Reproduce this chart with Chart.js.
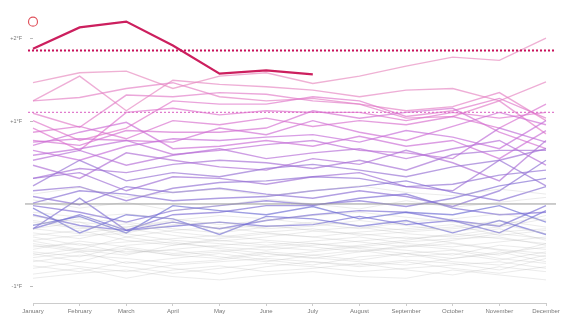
<!DOCTYPE html>
<html>
<head>
<meta charset="utf-8">
<script src="https://cdn.jsdelivr.net/npm/chart.js@4"></script>
<style>
  body { margin: 0; background: #fff; }
  #wrap { width: 580px; height: 326px; }
</style>
</head>
<body>
<div id="wrap"><canvas id="tempChart" width="580" height="326"></canvas></div>
<script>
// months along the bottom
let months = ['January', 'February', 'March', 'April', 'May', 'June', 'July', 'August', 'September', 'October', 'November', 'December'];

// y ticks (°F anomaly)
let yTickValues = [-1, 1, 2];
let yTickLabels = ['-1°F', '+1°F', '+2°F'];

// dotted reference levels
let recordLevel = 1.86;
let warmLevel = 1.11;
let markerValue = 2.21;

// latest year, January to July
let latestYear = [1.88, 2.14, 2.21, 1.92, 1.58, 1.62, 1.57];

// older years, drawn faint grey
let grayYears = [
  [-0.35, -0.42, -0.30, -0.38, -0.45, -0.40, -0.33, -0.36, -0.42, -0.38, -0.30, -0.44],
  [-0.52, -0.48, -0.60, -0.55, -0.50, -0.46, -0.52, -0.58, -0.50, -0.55, -0.62, -0.48],
  [-0.70, -0.62, -0.66, -0.72, -0.68, -0.60, -0.65, -0.70, -0.74, -0.66, -0.58, -0.70],
  [-0.20, -0.28, -0.35, -0.25, -0.22, -0.30, -0.27, -0.20, -0.26, -0.33, -0.28, -0.18],
  [-0.45, -0.55, -0.40, -0.48, -0.52, -0.56, -0.50, -0.45, -0.40, -0.47, -0.55, -0.60],
  [-0.85, -0.78, -0.90, -0.80, -0.75, -0.82, -0.78, -0.72, -0.80, -0.86, -0.76, -0.82],
  [-0.60, -0.70, -0.55, -0.62, -0.66, -0.58, -0.62, -0.68, -0.60, -0.56, -0.66, -0.72],
  [-0.30, -0.22, -0.40, -0.32, -0.28, -0.35, -0.40, -0.34, -0.30, -0.25, -0.38, -0.32],
  [-0.40, -0.50, -0.46, -0.42, -0.38, -0.44, -0.48, -0.52, -0.46, -0.42, -0.40, -0.50],
  [-0.75, -0.82, -0.70, -0.78, -0.85, -0.76, -0.70, -0.74, -0.68, -0.72, -0.80, -0.66],
  [-0.55, -0.45, -0.52, -0.60, -0.56, -0.64, -0.58, -0.52, -0.56, -0.62, -0.50, -0.55],
  [-0.25, -0.18, -0.22, -0.30, -0.35, -0.28, -0.22, -0.26, -0.32, -0.28, -0.20, -0.28],
  [-0.65, -0.58, -0.72, -0.66, -0.60, -0.68, -0.74, -0.64, -0.60, -0.70, -0.74, -0.62],
  [-0.48, -0.56, -0.62, -0.50, -0.44, -0.50, -0.45, -0.40, -0.48, -0.52, -0.46, -0.40],
  [-0.90, -0.84, -0.80, -0.88, -0.92, -0.86, -0.82, -0.88, -0.90, -0.80, -0.86, -0.92],
  [-0.15, -0.22, -0.28, -0.20, -0.14, -0.18, -0.24, -0.30, -0.22, -0.18, -0.12, -0.20],
  [-0.38, -0.32, -0.44, -0.50, -0.42, -0.36, -0.40, -0.46, -0.52, -0.44, -0.36, -0.42],
  [-0.58, -0.64, -0.50, -0.46, -0.54, -0.60, -0.66, -0.58, -0.52, -0.48, -0.56, -0.64],
  [-0.78, -0.70, -0.76, -0.84, -0.78, -0.72, -0.76, -0.82, -0.78, -0.74, -0.70, -0.78],
  [-0.30, -0.36, -0.28, -0.22, -0.30, -0.26, -0.32, -0.28, -0.36, -0.40, -0.34, -0.30],
  [-0.62, -0.54, -0.58, -0.56, -0.64, -0.70, -0.62, -0.56, -0.64, -0.60, -0.68, -0.58],
  [-0.44, -0.38, -0.36, -0.44, -0.48, -0.52, -0.56, -0.50, -0.44, -0.36, -0.42, -0.48],
  [-0.10, -0.16, -0.12, -0.18, -0.25, -0.20, -0.14, -0.10, -0.16, -0.22, -0.26, -0.14],
  [-0.68, -0.76, -0.82, -0.74, -0.70, -0.66, -0.70, -0.76, -0.70, -0.78, -0.84, -0.76],
  [-0.50, -0.58, -0.54, -0.62, -0.58, -0.52, -0.48, -0.54, -0.60, -0.66, -0.60, -0.52],
  [-0.22, -0.30, -0.24, -0.34, -0.40, -0.34, -0.30, -0.38, -0.34, -0.30, -0.24, -0.36],
  [0.05, -0.05, 0.02, -0.08, -0.02, 0.06, 0.00, -0.06, 0.04, -0.04, 0.02, 0.08],
  [0.12, 0.20, 0.08, 0.14, 0.18, 0.10, 0.16, 0.22, 0.14, 0.10, 0.18, 0.12]
];

// recent years, oldest first, coloured blue -> pink
let colorYears = [
  [-0.26, -0.15, -0.35, -0.02, -0.08, -0.13, -0.03, -0.18, -0.10, -0.13, -0.02, -0.22],
  [-0.05, -0.35, -0.13, -0.18, -0.37, -0.15, -0.18, -0.27, -0.20, -0.35, -0.20, -0.37],
  [-0.30, -0.13, -0.32, -0.27, -0.22, -0.27, -0.25, -0.15, -0.25, -0.20, -0.35, -0.08],
  [-0.13, -0.26, -0.32, -0.22, -0.30, -0.20, -0.13, -0.08, -0.10, -0.20, -0.27, -0.02],
  [-0.30, 0.07, -0.32, -0.13, -0.10, -0.02, -0.02, 0.07, 0.12, -0.05, -0.13, -0.10],
  [-0.02, -0.10, -0.22, -0.08, -0.02, 0.04, -0.01, 0.04, -0.03, 0.07, 0.22, 0.31],
  [0.01, 0.16, 0.12, 0.04, 0.07, 0.09, 0.16, 0.21, 0.28, 0.14, 0.04, 0.21],
  [0.09, -0.01, 0.21, 0.14, 0.19, 0.12, 0.07, 0.16, 0.09, -0.03, 0.16, 0.53],
  [0.16, 0.21, 0.04, 0.19, 0.26, 0.28, 0.33, 0.31, 0.21, 0.24, 0.35, 0.41],
  [0.22, 0.53, 0.28, 0.38, 0.33, 0.43, 0.48, 0.41, 0.33, 0.45, 0.53, 0.22],
  [0.31, 0.38, 0.16, 0.33, 0.31, 0.24, 0.33, 0.38, 0.21, 0.16, 0.53, 0.67],
  [0.31, 0.43, 0.38, 0.48, 0.53, 0.50, 0.43, 0.53, 0.41, 0.60, 0.65, 0.65],
  [0.47, 0.31, 0.62, 0.53, 0.45, 0.41, 0.55, 0.48, 0.65, 0.50, 0.28, 0.77],
  [0.53, 0.65, 0.47, 0.59, 0.67, 0.55, 0.62, 0.67, 0.55, 0.67, 0.77, 0.47],
  [0.59, 0.67, 0.77, 0.60, 0.65, 0.72, 0.77, 0.65, 0.62, 0.55, 0.92, 0.75],
  [0.65, 0.53, 0.70, 0.79, 0.77, 0.81, 0.84, 0.75, 0.89, 0.81, 0.67, 1.01],
  [0.71, 0.87, 0.99, 0.67, 0.70, 0.77, 0.70, 0.82, 0.70, 0.77, 0.55, 0.89],
  [0.75, 0.79, 0.77, 0.75, 0.92, 0.84, 1.01, 0.87, 0.77, 0.94, 1.11, 0.96],
  [0.77, 0.71, 0.89, 0.87, 0.87, 0.92, 1.13, 1.04, 1.11, 1.16, 0.87, 0.67],
  [0.87, 0.94, 0.79, 1.01, 0.96, 1.04, 0.94, 1.01, 0.96, 1.06, 0.92, 1.21],
  [0.92, 0.65, 1.11, 1.16, 1.08, 1.13, 1.11, 1.11, 1.01, 1.11, 1.04, 1.11],
  [1.01, 0.77, 0.92, 1.25, 1.21, 1.21, 1.30, 1.25, 1.06, 1.13, 1.28, 1.04],
  [1.10, 0.93, 1.32, 1.30, 1.35, 1.33, 1.25, 1.21, 1.04, 1.06, 1.25, 0.85],
  [1.25, 1.29, 1.40, 1.47, 1.30, 1.25, 1.28, 1.21, 1.13, 1.18, 1.35, 1.01],
  [1.25, 1.55, 1.13, 1.50, 1.45, 1.42, 1.38, 1.30, 1.38, 1.40, 1.25, 1.48],
  [1.47, 1.59, 1.61, 1.40, 1.55, 1.59, 1.46, 1.55, 1.67, 1.78, 1.74, 2.01]
];

// colour ramp for the recent years
let rampStops = [
  [0, [110, 110, 212]],
  [0.35, [150, 115, 212]],
  [0.6, [198, 110, 216]],
  [0.8, [222, 115, 205]],
  [1, [232, 140, 192]]
];

function rampColor(t, alpha) {
  for (let i = 1; i < rampStops.length; i++) {
    if (t <= rampStops[i][0]) {
      let a = rampStops[i - 1], b = rampStops[i];
      let f = (t - a[0]) / (b[0] - a[0]);
      let c = a[1].map((v, k) => Math.round(v + (b[1][k] - v) * f));
      return 'rgba(' + c.join(',') + ',' + alpha + ')';
    }
  }
  return 'rgba(232,140,192,' + alpha + ')';
}

let datasets = [];

grayYears.forEach(function (vals) {
  datasets.push({
    data: vals,
    borderColor: 'rgba(190,190,190,0.3)',
    borderWidth: 1
  });
});

colorYears.forEach(function (vals, i) {
  let t = i / (colorYears.length - 1);
  datasets.push({
    data: vals,
    borderColor: rampColor(t, 0.68),
    borderWidth: 1.4
  });
});

datasets.push({
  data: latestYear,
  borderColor: '#cc1f5e',
  borderWidth: 2.2
});

datasets.push({
  data: [markerValue],
  showLine: false,
  pointRadius: 4.5,
  pointHoverRadius: 4.5,
  pointBorderColor: '#e0555f',
  pointBackgroundColor: '#fff',
  pointBorderWidth: 1.2
});

// dotted levels + zero line, a little wider than the plot
let refLines = {
  id: 'refLines',
  afterDatasetsDraw: function (chart) {
    let c = chart.ctx, area = chart.chartArea, y = chart.scales.y;
    c.save();
    c.strokeStyle = '#999';
    c.lineWidth = 1;
    c.beginPath();
    c.moveTo(area.left - 8, y.getPixelForValue(0));
    c.lineTo(area.right + 10, y.getPixelForValue(0));
    c.stroke();

    c.setLineDash([2, 2]);
    c.strokeStyle = 'rgba(222,110,200,0.9)';
    c.lineWidth = 1.3;
    c.beginPath();
    c.moveTo(area.left - 5, y.getPixelForValue(warmLevel));
    c.lineTo(area.right + 9, y.getPixelForValue(warmLevel));
    c.stroke();

    c.strokeStyle = '#c8105a';
    c.lineWidth = 2;
    c.beginPath();
    c.moveTo(area.left - 5, y.getPixelForValue(recordLevel));
    c.lineTo(area.right + 9, y.getPixelForValue(recordLevel));
    c.stroke();
    c.restore();
  }
};

let ctx = document.getElementById('tempChart').getContext('2d');

let tempChart = new Chart(ctx, {
  type: 'line',
  data: {
    labels: months,
    datasets: datasets
  },
  options: {
    responsive: false,
    animation: false,
    layout: { autoPadding: false, padding: { top: 1, right: 34, bottom: 8, left: 0 } },
    elements: {
      point: { radius: 0, hoverRadius: 0 },
      line: { tension: 0 }
    },
    plugins: {
      legend: { display: false },
      tooltip: { enabled: false }
    },
    scales: {
      x: {
        offset: false,
        grid: { drawOnChartArea: false, tickLength: 3, color: '#ccc' },
        border: { color: '#ccc' },
        ticks: {
          color: '#777',
          font: { family: 'Liberation Sans', size: 6 },
          padding: 2,
          maxRotation: 0,
          autoSkip: false
        },
        afterFit: function (scale) { scale.height = 15; }
      },
      y: {
        min: -1.2,
        max: 2.46,
        afterBuildTicks: function (scale) {
          scale.ticks = yTickValues.map(v => ({ value: v }));
        },
        grid: { drawOnChartArea: false, tickLength: 3, color: '#bbb' },
        border: { display: false },
        ticks: {
          color: '#777',
          font: { family: 'Liberation Sans', size: 5.5 },
          padding: 8,
          callback: function (value) {
            let i = yTickValues.indexOf(value);
            return i >= 0 ? yTickLabels[i] : '';
          }
        },
        afterFit: function (scale) {
          scale.width = 33;
          scale.paddingTop = 0;
          scale.paddingBottom = 0;
        }
      }
    }
  },
  plugins: [refLines]
});
</script>
</body>
</html>
